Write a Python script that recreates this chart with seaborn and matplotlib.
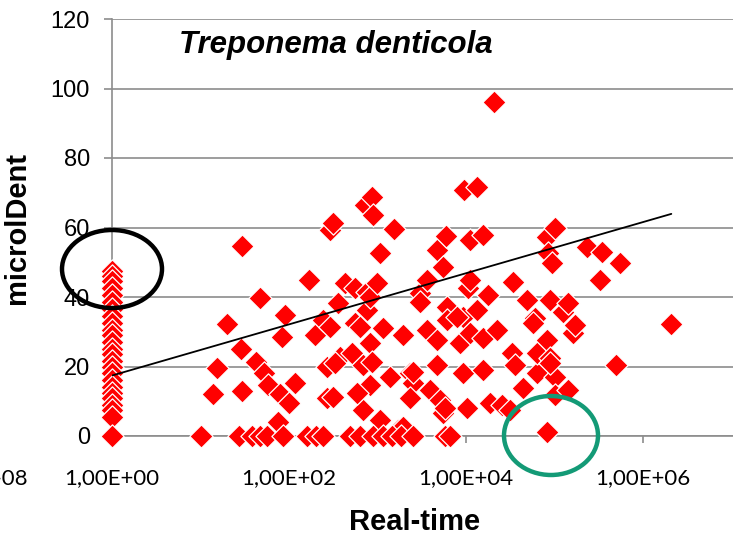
import numpy as np
import pandas as pd
import matplotlib.pyplot as plt
import seaborn as sns
from matplotlib.patches import Ellipse
from matplotlib.ticker import FixedLocator, NullLocator

# ── Data ──────────────────────────────────────────────────────────────────────
# samples sitting on the Real-time = 1,00E+00 column
col_one_dent = [47.5, 46, 44.5, 42.5, 40.5, 38.5, 36.5, 34.5, 32.5, 30.5, 29, 27,
                25, 23.5, 21.5, 20, 18, 16, 14, 12.5, 11, 9, 7.5, 5.5, 0]

# remaining samples: log10(Real-time) and microlDent
real_time_log10 = [
    1.01, 1.14, 1.19, 1.30, 1.46, 1.47, 1.47, 1.63, 1.67, 1.72, 1.76, 1.88, 1.90,
    1.92, 1.95, 2.00, 2.07, 2.23, 2.29, 2.38, 2.43, 2.43, 2.46, 2.50, 2.55, 2.58,
    2.63, 2.71, 2.75, 2.75, 2.80, 2.84, 2.84, 2.86, 2.88, 2.88, 2.92, 2.92, 2.92,
    2.94, 2.95, 2.94, 2.99, 3.03, 3.03, 3.06, 3.14, 3.19, 3.23, 3.29, 3.29, 3.37,
    3.40, 3.37, 3.48, 3.48, 3.56, 3.56, 3.59, 3.67, 3.67, 3.67, 3.71, 3.74, 3.77,
    3.79, 3.79, 3.74, 3.93, 3.97, 3.97, 3.98, 4.01, 4.02, 4.05, 4.05, 4.05, 4.12,
    4.12, 4.19, 4.19, 4.19, 4.25, 4.27, 4.32, 4.35, 4.41, 4.50, 4.52, 4.53, 4.55,
    4.64, 4.69, 4.78, 4.80, 4.80, 4.92, 4.92, 4.93, 4.92, 4.95, 4.95, 4.97, 5.01,
    5.01, 5.01, 5.10, 5.15, 5.15, 5.21, 5.23, 5.37, 5.51, 5.54, 5.69, 5.74, 6.32,
    4.76, 2.50, 2.52, 2.77, 2.46, 3.40, 3.90, 3.76, 4.95,
]
microl_dent = [
    0, 12.1, 19.6, 32.2, 25.0, 12.9, 54.7, 21.3, 39.7, 18.1, 14.7, 4.0, 12.1,
    28.5, 34.8, 9.5, 15.3, 44.9, 29.1, 33.4, 10.9, 19.9, 59.3, 61.3, 38.3, 22.7,
    44.0, 23.9, 42.6, 32.5, 31.4, 20.4, 7.5, 66.5, 41.4, 36.3, 26.8, 40.0, 14.7,
    68.8, 63.6, 21.3, 44.0, 4.6, 52.7, 31.1, 17.0, 59.6, 1.7, 29.1, 2.6, 18.1,
    15.3, 10.9, 41.2, 38.6, 44.9, 30.5, 13.2, 53.5, 27.6, 20.4, 10.4, 48.6, 57.6,
    37.1, 33.4, 6.6, 26.8, 34.2, 18.1, 70.8, 8.1, 42.6, 44.9, 56.4, 29.6, 71.7,
    36.3, 57.8, 28.2, 19.0, 40.6, 9.5, 96.1, 30.5, 8.9, 7.5, 23.9, 44.3, 20.4,
    13.8, 39.1, 34.0, 18.1, 23.9, 57.3, 27.6, 52.7, 1.2, 39.1, 22.4, 49.8, 59.9,
    17.0, 11.8, 35.7, 38.3, 13.2, 29.6, 31.9, 54.4, 44.9, 52.9, 20.4, 49.8, 32.2,
    32.5, 11.2, 21.0, 12.4, 31.4, 18.4, 34.2, 8.1, 21.0,
]

# samples with microlDent = 0
zero_row_log10 = [1.44, 1.58, 1.67, 1.75, 1.93, 2.20, 2.31, 2.38, 2.69, 2.80,
                  2.95, 3.06, 3.16, 3.27, 3.40, 3.76, 3.82]

# logarithmic trend line (y = a + b * log10(x))
trend_intercept = 17.4
trend_slope = 7.36
trend_log10_range = [0.0, 6.32]

X_TICKS = [1, 1e2, 1e4, 1e6]
X_TICK_LABELS = ["1,00E+00", "1,00E+02", "1,00E+04", "1,00E+06"]
Y_TICKS = [0, 20, 40, 60, 80, 100, 120]

# ── Assemble ──────────────────────────────────────────────────────────────────
df = pd.DataFrame({
    "real_time": np.concatenate([np.ones(len(col_one_dent)),
                                 10 ** np.array(real_time_log10),
                                 10 ** np.array(zero_row_log10)]),
    "microlDent": np.concatenate([col_one_dent, microl_dent,
                                  np.zeros(len(zero_row_log10))]),
})

# ── Style ─────────────────────────────────────────────────────────────────────
sns.set_style("white")
plt.rcParams.update({
    "font.family": ["Liberation Sans", "DejaVu Sans"],
    "text.color": "black",
    "axes.labelcolor": "black",
    "xtick.color": "black",
    "ytick.color": "black",
})

W, H = 733, 543
GRID = "#8c8c8c"

fig = plt.figure(figsize=(W / 100, H / 100), dpi=100)
ax = fig.add_axes([112 / W, 1 - 436 / H, (W - 112) / W, (436 - 19) / H])

sns.scatterplot(data=df, x="real_time", y="microlDent", marker="D", s=140,
                color="#ff0000", edgecolor="white", linewidth=0.9,
                ax=ax, clip_on=False, zorder=3, legend=False)

# trend line
tl = np.array(trend_log10_range)
ax.plot(10 ** tl, trend_intercept + trend_slope * tl, color="black", lw=1.3, zorder=4)

ax.set_xscale("log")
ax.set_xlim(1, 10 ** ((W - 112) / 88.5))
ax.set_ylim(0, 120)
ax.xaxis.set_major_locator(FixedLocator(X_TICKS))
ax.xaxis.set_minor_locator(NullLocator())
ax.set_xticklabels(X_TICK_LABELS, fontfamily="Lato", fontsize=16)
ax.set_yticks(Y_TICKS)
ax.set_yticklabels([str(v) for v in Y_TICKS], fontsize=17)

ax.yaxis.grid(True, color=GRID, lw=1.2)
ax.xaxis.grid(False)
ax.set_axisbelow(True)
for side in ["top", "right"]:
    ax.spines[side].set_visible(False)
for side in ["left", "bottom"]:
    ax.spines[side].set_color(GRID)
    ax.spines[side].set_linewidth(1.2)
ax.tick_params(axis="y", direction="out", length=6, width=1.2, color=GRID, pad=10, left=True)
ax.tick_params(axis="x", direction="out", length=5, width=1.2, color=GRID, pad=18, bottom=True)

ax.set_xlabel("Real-time", fontsize=21, fontweight="bold")
ax.xaxis.label.set_va("center")
ax.xaxis.set_label_coords((415 - 112) / (W - 112), -(522 - 436) / (436 - 19))
ax.set_ylabel("microlDent", fontsize=21, fontweight="bold")
ax.yaxis.label.set_va("center")
ax.yaxis.set_label_coords(-(112 - 17) / (W - 112), 0.5)

# title inside the plot
fig.text(336 / W, 1 - 45 / H, "Treponema denticola", fontsize=22.5,
         fontweight="bold", fontstyle="italic", ha="center", va="center")

# leftover label cut by the chart edge (as in the original)
fig.text(28 / W, 1 - 478 / H, "1,00E-08", fontfamily="Lato", fontsize=16,
         ha="right", va="center")

# highlight ellipses
fig.add_artist(Ellipse((112 / W, 1 - 269 / H), 100 / W, 78 / H,
                       transform=fig.transFigure, fill=False, ec="black", lw=3.2, zorder=5))
fig.add_artist(Ellipse((551 / W, 1 - 435.5 / H), 94 / W, 79 / H,
                       transform=fig.transFigure, fill=False, ec="#139a76", lw=3.2, zorder=5))

fig.savefig("out.png", dpi=100)
